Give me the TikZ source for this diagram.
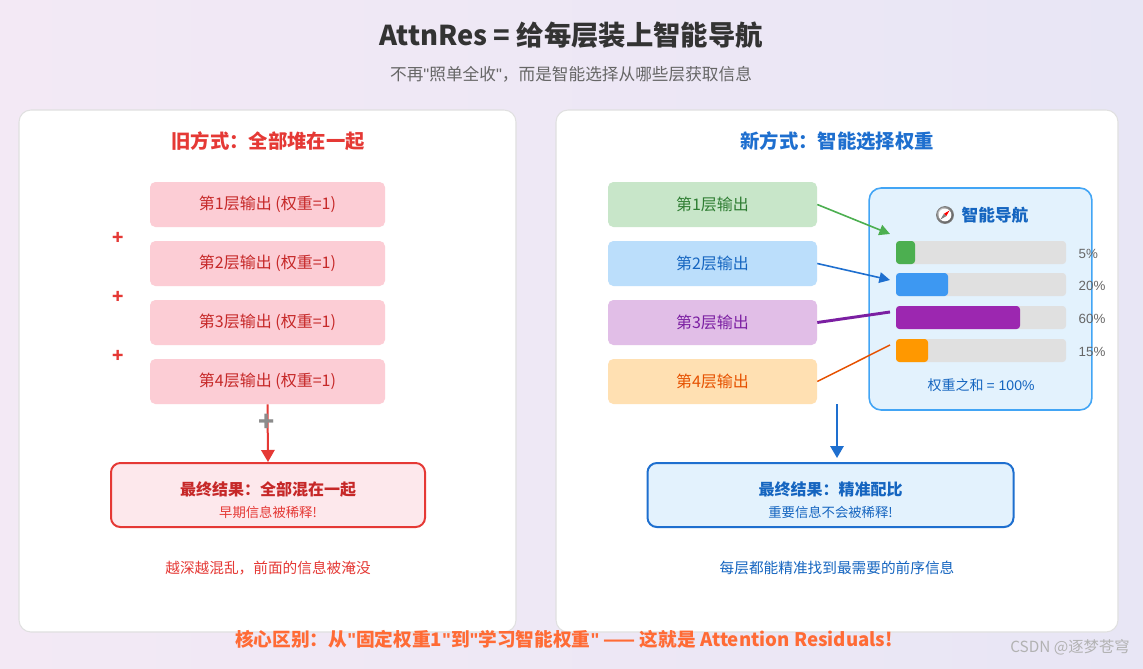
\documentclass[tikz,border=0pt]{standalone}
\usepackage{fontspec}
\setmainfont{Noto Sans CJK SC}
\newfontfamily\lat{Liberation Sans}
\newcommand{\qq}{{\lat"}}
\usetikzlibrary{arrows.meta,calc}
\definecolor{bgL}{HTML}{F3E9F5}\definecolor{bgR}{HTML}{E8E6F5}
\definecolor{redT}{HTML}{E53935}\definecolor{redD}{HTML}{C62828}
\definecolor{pinkB}{HTML}{FCCDD5}\definecolor{pinkF}{HTML}{FDE8EC}
\definecolor{blueT}{HTML}{1E6FCF}\definecolor{blueD}{HTML}{1565C0}
\definecolor{navF}{HTML}{E3F2FD}\definecolor{navB}{HTML}{42A5F5}
\definecolor{gB}{HTML}{C8E6C9}\definecolor{gT}{HTML}{2E7D32}
\definecolor{bB}{HTML}{BBDEFB}
\definecolor{pB}{HTML}{E1BEE7}\definecolor{pT}{HTML}{7B1FA2}
\definecolor{oB}{HTML}{FFE0B2}\definecolor{oT}{HTML}{E65100}
\definecolor{barG}{HTML}{E0E0E0}
\definecolor{c1}{HTML}{4CAF50}\definecolor{c2}{HTML}{3D98F2}\definecolor{c3}{HTML}{9C27B0}\definecolor{c4}{HTML}{FF9800}
\definecolor{botT}{HTML}{FF6B35}
\begin{document}
\begin{tikzpicture}[x=0.75pt,y=-0.75pt,
  panel/.style={draw=black!12,line width=0.8pt,fill=white,rounded corners=9pt},
  lbox/.style={fill=pinkB,rounded corners=4pt,minimum width=176.25pt,minimum height=33.75pt,text=redD,font=\fontsize{12}{14}\selectfont},
  rbox/.style={rounded corners=4pt,minimum width=156.75pt,minimum height=33.75pt,font=\fontsize{12}{14}\selectfont},
  plus/.style={text=redT,font=\fontsize{14}{14}\selectfont\bfseries},
  pct/.style={anchor=west,text=black!60,font=\fontsize{10}{12}\selectfont},
  bar/.style={rounded corners=2.5pt}]
\shade[left color=bgL,right color=bgR] (0,0) rectangle (1143,668);
\useasboundingbox (0,0) rectangle (1143,668);
\node (title) at (571,35) {\fontsize{20.5}{23}\selectfont\bfseries\color{black!80}AttnRes = 给每层装上智能导航};
\node (sub) at (571,74) {\fontsize{12.5}{14}\selectfont\color{black!60}不再\qq 照单全收\qq ，而是智能选择从哪些层获取信息};
\draw[panel] (19,110) rectangle (516,632);
\draw[panel] (556,110) rectangle (1118,632);
% left
\node (lt) at (268,141) {\fontsize{14.5}{16}\selectfont\bfseries\color{redT}旧方式：全部堆在一起};
\node[lbox] (l1) at (267.5,204.5) {第1层输出 (权重=1)};
\node[lbox] (l2) at (267.5,263.5) {第2层输出 (权重=1)};
\node[lbox] (l3) at (267.5,322.5) {第3层输出 (权重=1)};
\node[lbox] (l4) at (267.5,381.5) {第4层输出 (权重=1)};
\node[plus] (p1) at (118,238) {+};
\node[plus] (p2) at (118,297) {+};
\node[plus] (p3) at (118,356) {+};
\node[draw=redT,line width=1.5pt,fill=pinkF,rounded corners=7pt,minimum width=235.5pt,minimum height=48pt] (lf) at (268,495) {};
\node (lf1) at (268,489) {\fontsize{12}{14}\selectfont\bfseries\color{redD}最终结果：全部混在一起};
\node (lf2) at (268,512) {\fontsize{10}{11}\selectfont\color{redT}早期信息被稀释!};
\draw[redT,line width=1.5pt,-{Triangle[length=9pt,width=10pt]}] (l4.south) -- (lf.north);
\node (gp) at (267,423) {\fontsize{20}{20}\selectfont\bfseries\color{black!45}+};
\node (ln) at (268,568) {\fontsize{11}{12}\selectfont\color{redT}越深越混乱，前面的信息被淹没};
% right
\node (rt) at (837,141) {\fontsize{14.5}{16}\selectfont\bfseries\color{blueT}新方式：智能选择权重};
\node[rbox,fill=gB,text=gT] (r1) at (712.5,204.5) {第1层输出};
\node[rbox,fill=bB,text=blueD] (r2) at (712.5,263.5) {第2层输出};
\node[rbox,fill=pB,text=pT] (r3) at (712.5,322.5) {第3层输出};
\node[rbox,fill=oB,text=oT] (r4) at (712.5,381.5) {第4层输出};
\node[draw=navB,line width=1.2pt,fill=navF,rounded corners=9pt,minimum width=167pt,minimum height=166.5pt] (nav) at (980.5,299) {};
\node (navt) at (995,215) {\fontsize{12.5}{14}\selectfont\bfseries\color{blueD}智能导航};
\coordinate (cp) at (945,215);
\shade[ball color=black!15] (cp) circle (8.5);
\draw[black!50,line width=0.6pt] (cp) circle (8.5);
\fill[white] (cp) circle (6.3);
\fill[red] ($(cp)+(4.5,-4.5)$) -- ($(cp)+(1.2,1.2)$) -- ($(cp)+(-1.2,-1.2)$) -- cycle;
\fill[black!50] ($(cp)+(-4.5,4.5)$) -- ($(cp)+(1.2,1.2)$) -- ($(cp)+(-1.2,-1.2)$) -- cycle;
\foreach \y/\e/\c/\p/\n in {241/915/c1/5\%/b1,273/948/c2/20\%/b2,306/1020/c3/60\%/b3,339/928/c4/15\%/b4}{
  \fill[bar,barG] (896,\y) rectangle (1066,\y+23);
  \fill[bar,\c] (896,\y) rectangle (\e,\y+23);
  \node[pct] (\n) at (1074,\y+13) {\lat\p};
}
\coordinate (a1) at (890,234);
\coordinate (a2) at (890,280);
\coordinate (a3) at (890,312);
\coordinate (a4) at (890,345);
\node (sum) at (981,385) {\fontsize{10.5}{12}\selectfont\color{blueD}权重之和 {\lat= 100\%}};
\draw[c1,line width=1.2pt,-{Triangle[length=8pt,width=8pt]}] (r1.east) -- (a1);
\draw[blueT,line width=1.2pt,-{Triangle[length=8pt,width=8pt]}] (r2.east) -- (a2);
\draw[pT,line width=2.2pt] (r3.east) -- (a3);
\draw[oT,line width=1.1pt] (r4.east) -- (a4);
\node[draw=blueT,line width=1.5pt,fill=navF,rounded corners=7pt,minimum width=274.5pt,minimum height=48pt] (rf) at (830.5,495) {};
\node (rf1) at (830.5,489) {\fontsize{12}{14}\selectfont\bfseries\color{blueD}最终结果：精准配比};
\node (rf2) at (830.5,512) {\fontsize{10}{11}\selectfont\color{blueD}重要信息不会被稀释!};
\coordinate (dtop) at (837,404);
\draw[blueT,line width=1.5pt,-{Triangle[length=9pt,width=10pt]}] (dtop) -- (837,458);
\node (rn) at (837,568) {\fontsize{11}{12}\selectfont\color{blueD}每层都能精准找到最需要的前序信息};
\node (bot) at (564,639) {\fontsize{14}{16}\selectfont\bfseries\color{botT}核心区别：从\qq 固定权重1\qq 到\qq 学习智能权重\qq{} —— 这就是 Attention Residuals!};
\node (wm) at (1070,647) {\fontsize{11.5}{13}\selectfont\color{black!30}CSDN @逐梦苍穹};
\end{tikzpicture}
\end{document}
